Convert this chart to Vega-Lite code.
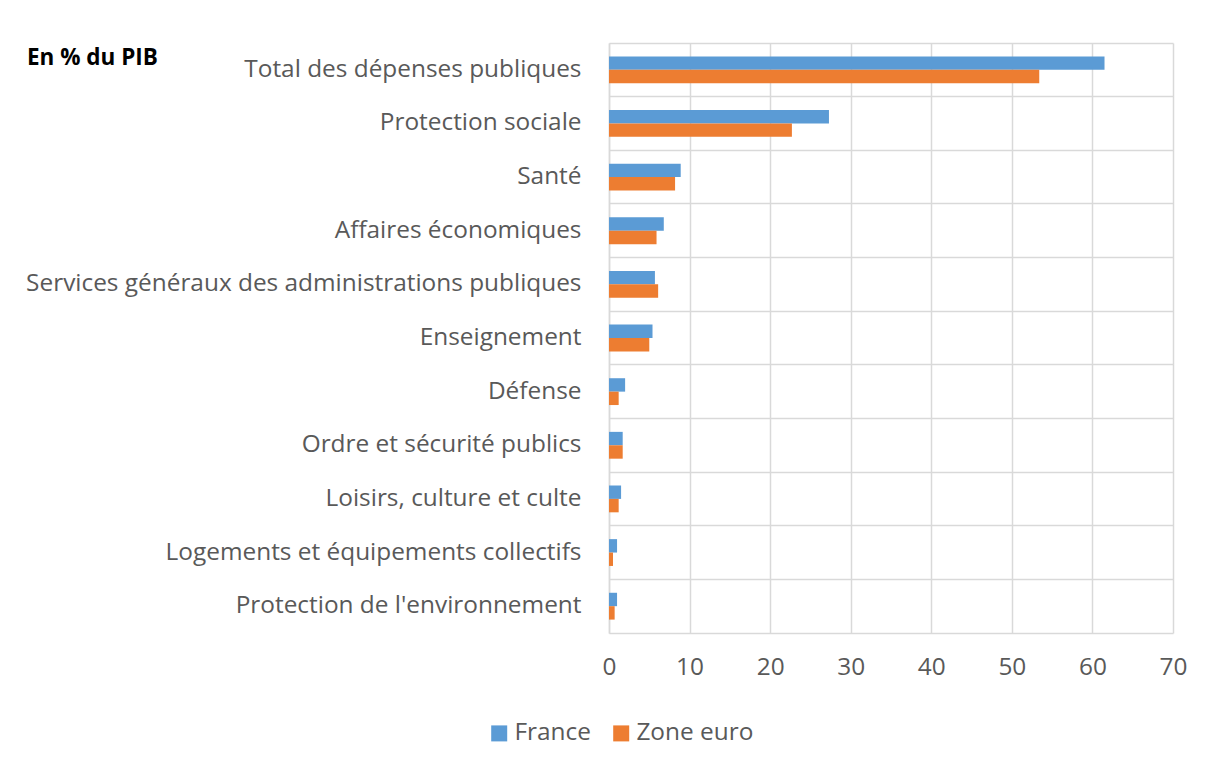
{
  "$schema": "https://vega.github.io/schema/vega-lite/v6.json",
  "width": 564,
  "height": 590,
  "autosize": "none",
  "padding": {"left": 609, "top": 43, "right": 35, "bottom": 137},
  "background": "white",
  "title": {
    "text": "En % du PIB",
    "anchor": "start",
    "frame": "group",
    "dx": -582,
    "offset": -44,
    "baseline": "alphabetic",
    "font": "Open Sans",
    "fontSize": 22.5,
    "fontWeight": "bold",
    "color": "#000000"
  },
  "data": {
    "values": [
      {"categorie": "Total des dépenses publiques", "serie": "France", "valeur": 61.5},
      {"categorie": "Total des dépenses publiques", "serie": "Zone euro", "valeur": 53.4},
      {"categorie": "Protection sociale", "serie": "France", "valeur": 27.3},
      {"categorie": "Protection sociale", "serie": "Zone euro", "valeur": 22.7},
      {"categorie": "Santé", "serie": "France", "valeur": 8.9},
      {"categorie": "Santé", "serie": "Zone euro", "valeur": 8.2},
      {"categorie": "Affaires économiques", "serie": "France", "valeur": 6.8},
      {"categorie": "Affaires économiques", "serie": "Zone euro", "valeur": 5.9},
      {"categorie": "Services généraux des administrations publiques", "serie": "France", "valeur": 5.7},
      {"categorie": "Services généraux des administrations publiques", "serie": "Zone euro", "valeur": 6.1},
      {"categorie": "Enseignement", "serie": "France", "valeur": 5.4},
      {"categorie": "Enseignement", "serie": "Zone euro", "valeur": 5.0},
      {"categorie": "Défense", "serie": "France", "valeur": 2.0},
      {"categorie": "Défense", "serie": "Zone euro", "valeur": 1.2},
      {"categorie": "Ordre et sécurité publics", "serie": "France", "valeur": 1.7},
      {"categorie": "Ordre et sécurité publics", "serie": "Zone euro", "valeur": 1.7},
      {"categorie": "Loisirs, culture et culte", "serie": "France", "valeur": 1.5},
      {"categorie": "Loisirs, culture et culte", "serie": "Zone euro", "valeur": 1.2},
      {"categorie": "Logements et équipements collectifs", "serie": "France", "valeur": 1.0},
      {"categorie": "Logements et équipements collectifs", "serie": "Zone euro", "valeur": 0.5},
      {"categorie": "Protection de l'environnement", "serie": "France", "valeur": 1.0},
      {"categorie": "Protection de l'environnement", "serie": "Zone euro", "valeur": 0.7}
    ]
  },
  "mark": {"type": "bar"},
  "encoding": {
    "y": {
      "field": "categorie",
      "type": "nominal",
      "sort": null,
      "scale": {"paddingInner": 0, "paddingOuter": 0},
      "axis": {
        "title": null,
        "bandPosition": 0,
        "grid": true,
        "gridColor": "#d9d9d9",
        "gridWidth": 1.5,
        "ticks": false,
        "domain": true,
        "domainColor": "#d9d9d9",
        "domainWidth": 1.5,
        "labelFont": "Open Sans",
        "labelFontSize": 24.4,
        "labelColor": "#595959",
        "labelPadding": 28,
        "labelLimit": 700
      }
    },
    "yOffset": {
      "field": "serie",
      "type": "nominal",
      "sort": ["France", "Zone euro"],
      "scale": {"paddingInner": 0, "paddingOuter": 1}
    },
    "x": {
      "field": "valeur",
      "type": "quantitative",
      "scale": {"domain": [0, 70], "nice": false},
      "axis": {
        "title": null,
        "values": [0, 10, 20, 30, 40, 50, 60, 70],
        "grid": true,
        "gridColor": "#d9d9d9",
        "gridWidth": 1.5,
        "ticks": false,
        "domain": true,
        "domainColor": "#d9d9d9",
        "domainWidth": 1.5,
        "labelFlush": false,
        "labelFont": "Open Sans",
        "labelFontSize": 24.4,
        "labelColor": "#595959",
        "labelPadding": 22
      }
    },
    "color": {
      "field": "serie",
      "type": "nominal",
      "sort": ["France", "Zone euro"],
      "scale": {"domain": ["France", "Zone euro"], "range": ["#5B9BD5", "#ED7D31"]},
      "legend": {
        "title": null,
        "orient": "none",
        "direction": "horizontal",
        "legendX": -122,
        "legendY": 678,
        "symbolType": "square",
        "symbolSize": 256,
        "symbolStrokeWidth": 0,
        "labelFont": "Open Sans",
        "labelFontSize": 24.4,
        "labelColor": "#595959",
        "labelOffset": 3,
        "columnPadding": 18
      }
    }
  },
  "config": {
    "view": {"stroke": null}
  }
}
